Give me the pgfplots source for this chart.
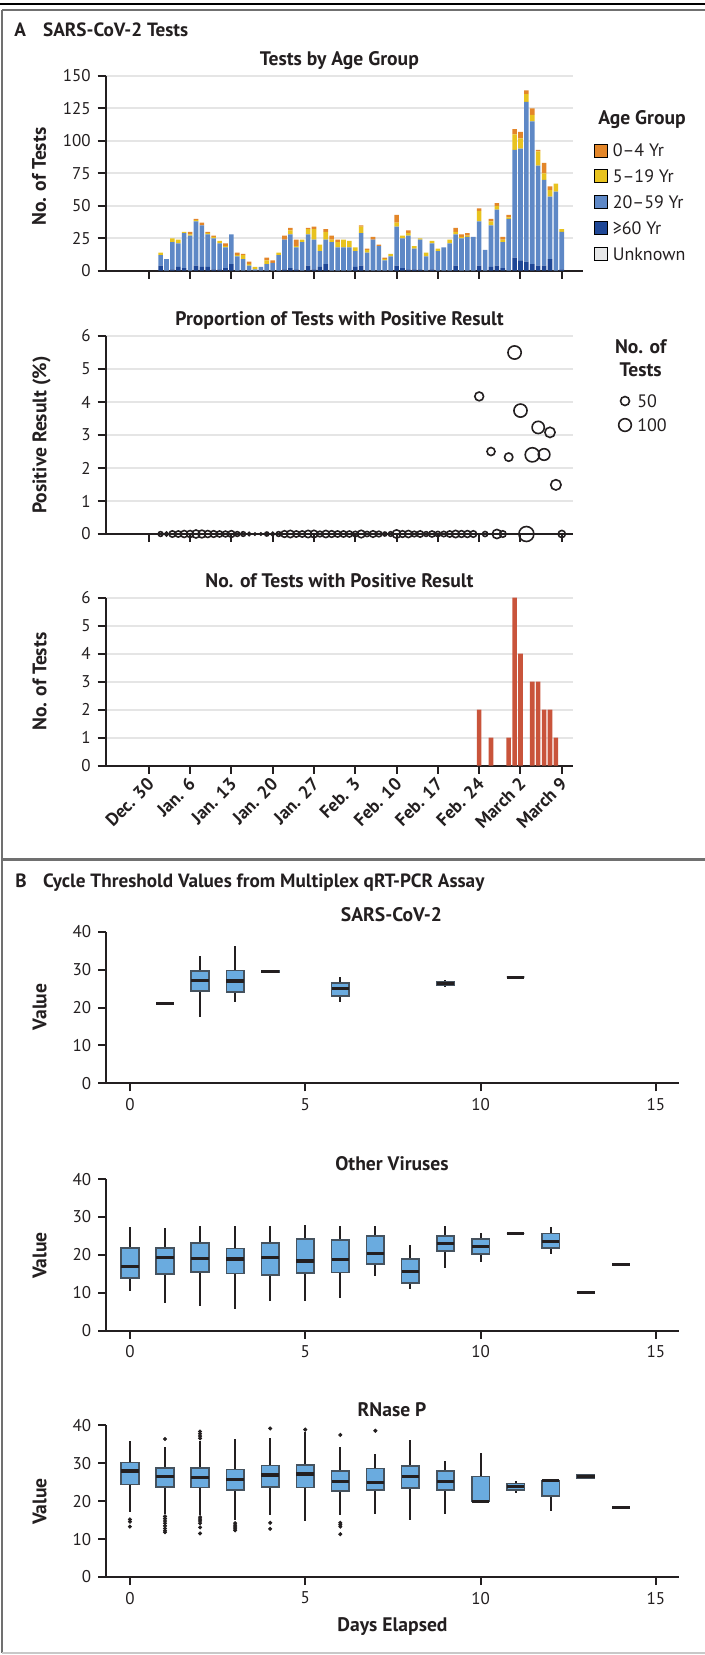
\documentclass[border=0pt]{standalone}
\usepackage{fontspec}
\setmainfont{PT Sans}
\usepackage{pgfplots}
\usepackage{pgfplotstable}
\pgfplotsset{compat=1.18}
\usepgfplotslibrary{statistics}

\definecolor{c0}{HTML}{E38629}
\definecolor{c5}{HTML}{E8C31F}
\definecolor{c20}{HTML}{5E88C6}
\definecolor{c60}{HTML}{1F4796}
\definecolor{cunk}{HTML}{E6E7E8}
\definecolor{redbar}{HTML}{C9543B}
\definecolor{gridc}{HTML}{E5E5E5}
\definecolor{boxfill}{HTML}{6AABDF}
\definecolor{boxedge}{HTML}{45525E}
\definecolor{ink}{HTML}{231F20}
\definecolor{framegray}{HTML}{707070}
\definecolor{lightframe}{HTML}{C8C8C8}

% tests per day (day 0 = Dec. 30), by age group
\pgfplotstableread{
d  g60 g20 g5 g0
2  4 8 2 0
3  0 9 0 0
4  1 21 3 0
5  3 18 3 0
6  2 27 1 0
7  0 27 1 2
8  4 34 1 1
9  3 32 0 2
10 3 25 1 1
11 1 24 1 1
12 1 20 2 0
13 2 16 1 2
14 5 23 0 0
15 0 11 1 2
16 0 9 3 1
17 0 4 1 2
18 0 1 2 0
19 0 3 0 0
20 0 5 3 2
21 0 6 0 2
22 0 12 2 0
23 1 23 0 3
24 2 26 3 2
25 1 17 1 5
26 0 22 2 0
27 4 24 4 1
28 1 23 8 2
29 3 12 5 0
30 5 19 6 2
31 0 22 2 3
32 0 18 4 2
33 0 18 6 0
34 0 18 5 0
35 3 12 3 0
36 4 25 5 1
37 0 14 2 1
38 0 24 0 2
39 0 19 0 1
40 0 8 1 1
41 0 11 2 0
42 4 30 3 6
43 2 23 2 0
44 1 26 2 2
45 1 16 2 0
46 1 23 1 0
47 0 11 3 0
48 1 20 2 0
49 0 15 2 0
50 0 18 0 0
51 0 21 3 0
52 4 24 2 3
53 0 25 1 2
54 0 26 1 2
55 0 26 0 0
56 4 34 8 2
57 0 16 0 0
58 3 32 3 2
59 4 43 3 2
60 2 20 2 2
61 0 40 1 2
62 10 83 12 4
63 8 86 8 5
64 7 123 6 3
65 5 110 5 5
66 4 77 11 1
67 4 66 5 8
68 9 48 5 3
69 0 61 6 0
70 1 29 2 0
}\agedata

% percent positive and number of tests
\pgfplotstableread{
d n p
2 14 0
3 9 0
4 25 0
5 24 0
6 30 0
7 30 0
8 40 0
9 37 0
10 30 0
11 27 0
12 23 0
13 21 0
14 28 0
15 14 0
16 13 0
17 7 0
18 3 0
19 3 0
20 10 0
21 8 0
22 14 0
23 27 0
24 33 0
25 24 0
26 24 0
27 33 0
28 34 0
29 20 0
30 32 0
31 27 0
32 24 0
33 24 0
34 23 0
35 18 0
36 35 0
37 17 0
38 26 0
39 20 0
40 10 0
41 13 0
42 43 0
43 27 0
44 31 0
45 19 0
46 25 0
47 14 0
48 23 0
49 17 0
50 18 0
51 24 0
52 33 0
53 28 0
54 29 0
55 26 0
56 48 4.17
57 16 0
58 40 2.5
59 52 0
60 26 0
61 43 2.33
62 109 5.5
63 107 3.74
64 139 0
65 125 2.4
66 93 3.23
67 83 2.41
68 65 3.08
69 67 1.49
70 32 0
}\posdata

\pgfplotsset{
  base/.style={
    scale only axis,
    axis lines*=left,
    axis line style={ink, line width=1pt},
    every tick/.style={ink, line width=1pt},
    tick align=outside, major tick length=4pt,
    tick label style={font=\fontsize{8.5}{10}\selectfont, text=ink},
    /pgf/number format/assume math mode=true,
  },
  panelA/.style={base, width=233.65pt,
    xmin=-7.3, xmax=71.9, xtick={0,7,...,70}, xticklabels={},
    ymin=0, ymajorgrids, major grid style={gridc, line width=1pt}},
  panelB/.style={base, width=286.45pt, height=75.8pt,
    xmin=-0.68, xmax=15.66, ymin=0, ymax=40,
    xtick={0,5,10,15}, ytick={0,10,...,40},
    boxplot/draw direction=y, boxplot/box extend=0.5,
    boxplot/whisker extend=0,
    boxplot/every box/.style={fill=boxfill, draw=boxedge, line width=0.8pt},
    boxplot/every median/.style={ink, line width=1.6pt},
    boxplot/every whisker/.style={ink, line width=1pt}},
  bxs/.style={ink, mark=*, mark size=0.8pt},
  sqimg/.style={legend image code/.code={\fill[##1] (0pt,-3.25pt) rectangle (6.5pt,3.25pt);}},
  circimg/.style={legend image code/.code={\draw[##1] plot[only marks, mark=o] coordinates {(0pt,0pt)};}},
}

\newcommand{\bx}[6]{\addplot[bxs, boxplot prepared={draw position=#1,
  lower whisker=#2, lower quartile=#3, median=#4, upper quartile=#5,
  upper whisker=#6}] coordinates {};}
\newcommand{\bxo}[7]{\addplot[bxs, boxplot prepared={draw position=#1,
  lower whisker=#2, lower quartile=#3, median=#4, upper quartile=#5,
  upper whisker=#6}] table[row sep=\\, y index=0] {v\\ #7};}

\tikzset{
  hdr/.style={font=\bfseries\fontsize{9.6}{11}\selectfont, text=ink, inner sep=0pt, text height=6.8pt, text depth=0pt},
  ttl/.style={font=\bfseries\fontsize{9.8}{11}\selectfont, text=ink, inner sep=0pt, text height=6.9pt, text depth=0pt},
  ylab/.style={ttl, rotate=90},
}

\begin{document}
\begin{tikzpicture}
\begin{scope}[x=0.5pt, y=-0.5pt]
  \path[use as bounding box] (0,0) rectangle (705,1655);
  \draw[black, line width=1.25pt] (0,4) -- (705,4);
  \draw[framegray, line width=1pt] (2,9.5) -- (705,9.5);
  \draw[framegray, line width=1pt] (2,9.5) -- (2,1653);
  \draw[framegray, line width=1.2pt] (2,859.5) -- (705,859.5);
  \draw[lightframe, line width=1pt] (2,1653) -- (705,1653);

  \node[hdr, anchor=west] at (14,30) {A};
  \node[hdr, anchor=west] at (42.7,30) {SARS-CoV-2 Tests};
  \node[ttl] at (339.4,58.3) {Tests by Age Group};
  \node[ttl] at (642,117.5) {Age Group};
  \node[ylab] at (39,176.7) {No. of Tests};
  \node[ttl] at (339.5,318.3) {Proportion of Tests with Positive Result};
  \node[ylab] at (39.6,435) {Positive Result (\%)};
  \node[ttl] at (640.7,346.7) {No. of};
  \node[ttl] at (640.7,369.3) {Tests};
  \node[ttl] at (339.5,580.7) {No. of Tests with Positive Result};
  \node[ylab] at (39.6,681.7) {No. of Tests};
  \node[hdr, anchor=west] at (15,880.5) {B};
  \node[hdr, anchor=west] at (42.7,880.5) {Cycle Threshold Values from Multiplex qRT-PCR Assay};
  \node[ttl] at (391.5,915) {SARS-CoV-2};
  \node[ylab] at (39.6,1007) {Value};
  \node[ttl] at (392,1163.3) {Other Viruses};
  \node[ylab] at (39.6,1255.5) {Value};
  \node[ttl] at (392,1410) {RNase P};
  \node[ylab] at (39.6,1501.5) {Value};
  \node[ttl] at (392.5,1625) {Days Elapsed};
\end{scope}

% ---- Tests by age group
\begin{axis}[panelA, at={(52.85pt,-135.35pt)}, anchor=south west,
  height=97.35pt, ymax=150, ytick={0,25,...,150},
  x axis line style={shorten >=-5pt},
  ybar stacked, bar width=0.78,
  legend cell align=left,
  legend style={draw=none, fill=none, inner sep=0pt, outer sep=0pt,
    at={(1.0449,0.6533)}, anchor=north west,
    font=\fontsize{9}{10}\selectfont, text=ink, row sep=6pt,
    nodes={inner sep=0pt, text height=6.5pt, text depth=0pt},
    /tikz/every odd column/.append style={column sep=2.5pt}}]
  \addlegendimage{sqimg, fill=c0}\addlegendentry{0--4 Yr}
  \addlegendimage{sqimg, fill=c5}\addlegendentry{5--19 Yr}
  \addlegendimage{sqimg, fill=c20}\addlegendentry{20--59 Yr}
  \addlegendimage{sqimg, fill=c60}\addlegendentry{≥60 Yr}
  \addlegendimage{sqimg, fill=cunk}\addlegendentry{Unknown}
  \addplot[fill=c60, draw=none, forget plot] table[x=d, y=g60] \agedata;
  \addplot[fill=c20, draw=none, forget plot] table[x=d, y=g20] \agedata;
  \addplot[fill=c5, draw=none, forget plot] table[x=d, y=g5] \agedata;
  \addplot[fill=c0, draw=none, forget plot] table[x=d, y=g0] \agedata;
\end{axis}

% ---- Proportion positive
\begin{axis}[panelA, at={(52.85pt,-267pt)}, anchor=south west,
  height=99pt, ymax=6, ytick={0,1,...,6},
  legend cell align=left,
  legend style={draw=none, fill=none, inner sep=0pt, outer sep=0pt,
    at={(1.0977,0.7045)}, anchor=north west,
    font=\fontsize{9}{10}\selectfont, text=ink, row sep=5.5pt,
    nodes={inner sep=0pt, text height=6.5pt, text depth=0pt},
    /tikz/every odd column/.append style={column sep=3pt}}]
  \addlegendimage{circimg, ink, mark size=2.245pt, mark options={line width=0.8pt}}\addlegendentry{50}
  \addlegendimage{circimg, ink, mark size=3.175pt, mark options={line width=0.8pt}}\addlegendentry{100}
  \addplot[scatter, only marks, mark=o, forget plot,
    scatter/use mapped color={draw=ink},
    mark options={line width=0.8pt},
    visualization depends on={0.3175*sqrt(\thisrow{n}) \as \rad},
    scatter/@pre marker code/.append style={/tikz/mark size=\rad pt}]
    table[x=d, y=p] \posdata;
\end{axis}

% ---- Number positive
\begin{axis}[panelA, at={(52.85pt,-382.85pt)}, anchor=south west,
  height=84pt, ymax=6, ytick={0,1,...,6},
  xticklabels={Dec. 30, Jan. 6, Jan. 13, Jan. 20, Jan. 27, Feb. 3, Feb. 10, Feb. 17, Feb. 24, March 2, March 9},
  x tick label style={rotate=45, anchor=north east, yshift=3.5pt, xshift=1.5pt,
    font=\bfseries\fontsize{9}{10}\selectfont}]
  \addplot[ybar, bar width=0.78, fill=redbar, draw=none]
    coordinates {(56,2) (58,1) (61,1) (62,6) (63,4) (65,3) (66,3) (67,2) (68,2) (69,1)};
\end{axis}

% ---- SARS-CoV-2 Ct
\begin{axis}[panelB, at={(53.05pt,-541.65pt)}, anchor=south west]
  \bx{1}{21}{21}{21}{21}{21}
  \bx{2}{17.6}{24.3}{27.1}{29.6}{33.6}
  \bx{3}{21.5}{24.1}{27}{29.8}{36.2}
  \bx{4}{29.3}{29.3}{29.5}{29.8}{29.8}
  \bx{6}{21.5}{23.1}{25.1}{26.5}{28}
  \bx{9}{25.5}{25.8}{26.4}{26.9}{27.2}
  \bx{11}{28}{28}{28}{28}{28}
\end{axis}

% ---- Other viruses Ct
\begin{axis}[panelB, at={(53.05pt,-665.35pt)}, anchor=south west]
  \bx{0}{10.4}{13.9}{16.9}{21.9}{27.3}
  \bx{1}{7.2}{14.9}{19.4}{21.9}{27}
  \bx{2}{6.6}{15.5}{19}{23.2}{27.7}
  \bx{3}{5.8}{15.1}{18.9}{21.7}{27.7}
  \bx{4}{7.9}{14.7}{19.3}{23.2}{27.7}
  \bx{5}{7.9}{15.3}{18.4}{24.2}{28}
  \bx{6}{8.7}{15.4}{18.8}{23.9}{27.7}
  \bx{7}{14.4}{17.6}{20.4}{25}{27.7}
  \bx{8}{10.9}{12.6}{15.6}{18.9}{22.7}
  \bx{9}{16.5}{21.1}{23}{25}{27.7}
  \bx{10}{18.2}{20.3}{22.2}{24.2}{25.9}
  \bx{11}{25.7}{25.7}{25.7}{25.7}{25.7}
  \bx{12}{20.2}{21.9}{23.6}{25.7}{27.3}
  \bx{13}{10.1}{10.1}{10.1}{10.1}{10.1}
  \bx{14}{17.5}{17.5}{17.5}{17.5}{17.5}
\end{axis}

% ---- RNase P Ct
\begin{axis}[panelB, at={(53.05pt,-788.5pt)}, anchor=south west]
  \bxo{0}{17.2}{24.4}{28}{30.2}{35.8}{15.2\\ 14.6\\ 13.3\\}
  \bxo{1}{16.5}{23.7}{26.5}{28.7}{34.4}{36.4\\ 16.0\\ 15.4\\ 14.8\\ 14.2\\ 13.5\\ 12.8\\ 12.2\\ 11.8\\}
  \bxo{2}{16.3}{23.6}{26.2}{28.8}{35.9}{38.4\\ 37.8\\ 37.2\\ 36.6\\ 15.8\\ 15.3\\ 14.8\\ 14.2\\ 13.1\\ 11.5\\}
  \bxo{3}{15.0}{22.9}{25.7}{28.4}{36.3}{14.2\\ 13.7\\ 13.2\\ 12.7\\ 12.3\\}
  \bxo{4}{16.3}{23.8}{26.9}{29.4}{36.8}{39.2\\ 14.3\\ 12.7\\}
  \bxo{5}{14.7}{23.6}{27.2}{29.6}{38.2}{38.9\\}
  \bxo{6}{16.4}{22.7}{25.1}{28}{34.2}{37.5\\ 14.3\\ 13.8\\ 13.3\\ 11.3\\}
  \bxo{7}{16.7}{22.9}{24.9}{28.6}{32.4}{38.6\\}
  \bx{8}{15.1}{23.5}{26.5}{29.3}{36.1}
  \bx{9}{16.7}{23}{25.1}{27.9}{30.6}
  \bx{10}{19.7}{19.9}{20}{26.5}{32.6}
  \bx{11}{22.2}{22.9}{23.8}{24.7}{25.4}
  \bx{12}{17.5}{21.4}{25.4}{25.4}{25.4}
  \bx{13}{25.8}{26}{26.5}{26.9}{27.3}
  \bx{14}{18.3}{18.3}{18.3}{18.3}{18.3}
\end{axis}
\end{tikzpicture}
\end{document}
